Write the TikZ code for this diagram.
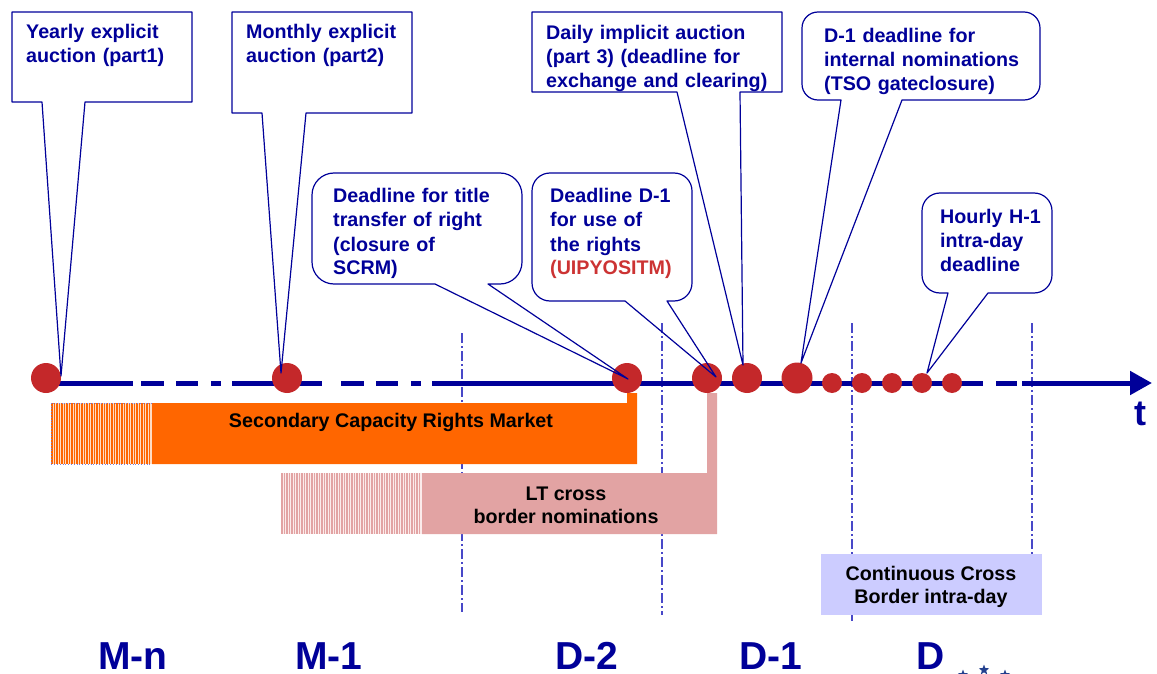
\documentclass[tikz,border=0pt]{standalone}
\usepackage{fontspec}
\setmainfont{Liberation Sans}
\usepackage{tikz}
\usetikzlibrary{arrows.meta,shapes.geometric}
\definecolor{CallBlue}{HTML}{000099}
\definecolor{GridBlue}{HTML}{4848C8}
\definecolor{EventRed}{HTML}{C4282A}
\definecolor{AlertRed}{HTML}{CC3333}
\definecolor{MarketOrange}{HTML}{FF6600}
\definecolor{HatchOrange}{HTML}{FFDCC4}
\definecolor{NomPink}{HTML}{E2A3A3}
\definecolor{HatchPink}{HTML}{FBEBEB}
\definecolor{IntraLilac}{HTML}{CCCCFF}
\definecolor{StarBlue}{HTML}{23408E}

\tikzset{
  calltext/.style={anchor=base west, inner sep=0pt, text width=#1, align=left,
    text=CallBlue, font=\fontsize{19.7}{24}\selectfont\bfseries},
  callout/.style={draw=CallBlue, line width=1.2pt, line join=round},
  bartext/.style={inner sep=0pt, align=center, text=black,
    font=\fontsize{19.7}{23}\selectfont\bfseries},
  period/.style={anchor=base, inner sep=0pt, text depth=0pt, text=CallBlue,
    font=\fontsize{39}{39}\selectfont\bfseries},
  gridline/.style={draw=GridBlue, line width=1.4pt,
    dash pattern=on 10pt off 3pt on 2pt off 3pt},
  axisline/.style={draw=CallBlue, line width=5pt},
  event/.style={circle, fill=EventRed, inner sep=0pt, minimum size=#1},
  eustar/.style={star, star points=5, star point ratio=2.4, fill=StarBlue,
    inner sep=0pt, minimum size=11pt}
}

\begin{document}
\begin{tikzpicture}[x=1pt,y=-1pt]
  \useasboundingbox (0,0) rectangle (1157,674);
  \clip (0,0) rectangle (1157,674);

  % --- day boundaries ---
  \foreach \xg/\ya/\yb in {462/333/612, 662/323/615, 852/323/622, 1032/323/612}
    \draw[gridline] (\xg,\ya) -- (\xg,\yb);

  % --- time axis ---
  \foreach \xa/\xb in {46/133, 141/164, 176/198, 211/221, 232/322,
                       341/364, 376/398, 411/421, 432/983, 996/1017}
    \draw[axisline] (\xa,383) -- (\xb,383);
  \draw[axisline, -{Triangle[length=22pt,width=23pt]}] (1022,383) -- (1152,383);
  \node[anchor=base, inner sep=0pt, text=CallBlue,
        font=\fontsize{36}{36}\selectfont\bfseries] (tlabel) at (1140,425) {t};

  % --- Secondary Capacity Rights Market ---
  \fill[HatchOrange] (51,403) rectangle (152,464);
  \foreach \xh in {52,54.5,...,151}
    \draw[MarketOrange, line width=1.2pt] (\xh,403) -- (\xh,464);
  \draw[GridBlue!70, line width=0.8pt, dotted] (152,403) -- (51,403) -- (51,464) -- (152,464);
  \fill[MarketOrange] (152,403) -- (627,403) -- (627,393) -- (637,393)
    -- (637,464) -- (152,464) -- cycle;
  \node[bartext] (scrm) at (391,422) {Secondary Capacity Rights Market};

  % --- LT cross border nominations ---
  \fill[HatchPink] (281,473) rectangle (422,534);
  \foreach \xh in {282,284.5,...,421}
    \draw[NomPink, line width=1.2pt] (\xh,473) -- (\xh,534);
  \fill[NomPink] (422,473) -- (707,473) -- (707,393) -- (717,393)
    -- (717,534) -- (422,534) -- cycle;
  \node[bartext, anchor=base] (ltnom) at (566,523) {LT cross\\border nominations};

  % --- Continuous Cross Border intra-day ---
  \fill[IntraLilac] (821,554) rectangle (1042,615);
  \node[bartext, anchor=base] (intra) at (931,603) {Continuous Cross\\Border intra-day};

  % --- events on the axis ---
  \node[event=30pt] (e1) at (46,378) {};
  \node[event=30pt] (e2) at (287,378) {};
  \node[event=30pt] (e3) at (627,378) {};
  \node[event=30pt] (e4) at (707,378) {};
  \node[event=30pt] (e5) at (747,378) {};
  \node[event=31pt] (e6) at (797,378) {};
  \foreach \xe [count=\ie from 7] in {832,862,892,922,952}
    \node[event=20pt] (e\ie) at (\xe,383) {};

  % --- callouts ---
  \draw[callout] (12,12) -- (192,12) -- (192,102) -- (85,102) -- (61,376)
    -- (42,102) -- (12,102) -- cycle;
  \node[calltext=175] (yearly) at (26,39) {Yearly explicit\\auction (part1)};

  \draw[callout] (232,12) -- (412,12) -- (412,113) -- (306,113) -- (281,373)
    -- (262,113) -- (232,113) -- cycle;
  \node[calltext=175] (monthly) at (246,39) {Monthly explicit\\auction (part2)};

  \draw[callout] (532,12) -- (782,12) -- (782,92) -- (740,92) -- (743,365)
    -- (677,92) -- (532,92) -- cycle;
  \node[calltext=240] (daily) at (546,40) {Daily implicit auction\\(part 3) (deadline for\\exchange and clearing)};

  \draw[callout, rounded corners=16pt] (920,12) -- (1040,12) -- (1040,100)
    [sharp corners] -- (902,100) -- (801,363) -- (841,100)
    [rounded corners=16pt] -- (802,100) -- (802,12) -- cycle;
  \node[calltext=225] (gate) at (824,43) {D-1 deadline for\\internal nominations\\(TSO gateclosure)};

  \draw[callout, rounded corners=22pt] (420,173) -- (522,173) -- (522,284)
    [sharp corners] -- (488,284) -- (628,379) -- (435,284)
    [rounded corners=22pt] -- (312,284) -- (312,173) -- cycle;
  \node[calltext=185] (title) at (333,203) {Deadline for title\\transfer of right\\(closure of\\SCRM)};

  \draw[callout, rounded corners=18pt] (610,173) -- (692,173) -- (692,301)
    [sharp corners] -- (667,301) -- (716,377) -- (625,301)
    [rounded corners=18pt] -- (532,301) -- (532,173) -- cycle;
  \node[calltext=140] (rights) at (550,203) {Deadline D-1\\for use of\\the rights\\\textcolor{AlertRed}{(UIPYOSITM)}};

  \draw[callout, rounded corners=18pt] (990,193) -- (1052,193) -- (1052,293)
    [sharp corners] -- (988,293) -- (927,373) -- (948,293)
    [rounded corners=18pt] -- (922,293) -- (922,193) -- cycle;
  \node[calltext=110] (hourly) at (940,223) {Hourly H-1\\intra-day\\deadline};

  % --- periods ---
  \node[period] (mn) at (133,669) {M-n};
  \node[period] (m1) at (329,669) {M-1};
  \node[period] (d2) at (587,669) {D-2};
  \node[period] (d1) at (771,669) {D-1};
  \node[period] (dd) at (931,669) {D};

  % --- stars ---
  \node[eustar] (s1) at (963,675) {};
  \node[eustar] (s2) at (984,670) {};
  \node[eustar] (s3) at (1005,675) {};
\end{tikzpicture}
\end{document}
